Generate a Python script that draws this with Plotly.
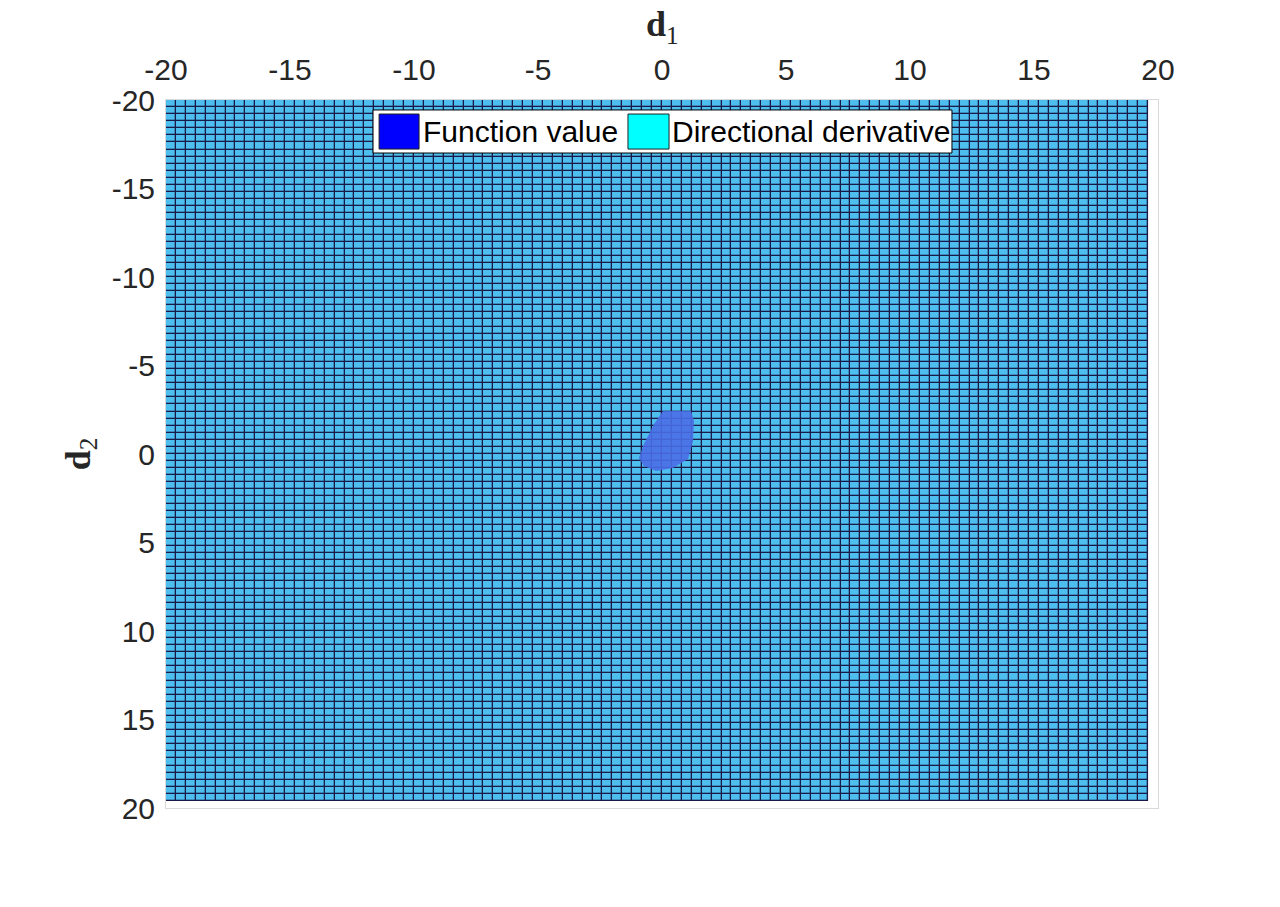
import numpy as np
import plotly.graph_objects as go

# mesh grid (flat surface seen from above), 0.4 spacing
grid_x = np.linspace(-20, 19.6, 100)
grid_y = np.linspace(-20, 19.6, 100)
mesh_z = np.ones((99, 99))

# outline of the "Function value" patch near the origin
blob_d1 = [0.04, 1.17, 1.29, 1.25, 1.05, 0.44, -0.24, -0.73, -0.93, -0.73, -0.32, -0.04, 0.04]
blob_d2 = [-2.43, -2.43, -1.86, -0.73, 0.28, 0.79, 0.96, 0.68, 0.23, -0.56, -1.69, -2.32, -2.43]

tick_vals = [-20, -15, -10, -5, 0, 5, 10, 15, 20]
tick_text = ["-20", "-15", "-10", "-5", "0", "5", "10", "15", "20"]
legend_names = ["Function value", "Directional derivative"]
legend_colors = ["#0000ff", "#00ffff"]

fig = go.Figure()

fig.add_trace(go.Heatmap(
    x=grid_x, y=grid_y, z=mesh_z,
    colorscale=[[0, "#4dbeee"], [1, "#4dbeee"]],
    showscale=False, xgap=1.3, ygap=1.3, hoverinfo="skip",
))

fig.add_trace(go.Scatter(
    x=blob_d1, y=blob_d2, mode="lines", fill="toself",
    fillcolor="rgba(74,110,230,0.9)", line=dict(width=0),
    showlegend=False, hoverinfo="skip",
))

# dark rectangle behind the mesh, so the gaps read as mesh lines
fig.add_shape(type="rect", xref="x", yref="y", x0=-20, x1=19.6, y0=-20, y1=19.6,
              fillcolor="#1a1a48", line=dict(width=0), layer="below")

# legend drawn by hand (MATLAB style boxes)
fig.add_shape(type="rect", xref="paper", yref="paper", x0=0.2087, x1=0.7923,
              y0=0.9251, y1=0.9859, fillcolor="white", line=dict(color="black", width=1))
box_x = [(0.2148, 0.2551), (0.4657, 0.5071)]
text_x = [0.2570, 0.5081]
for name, col, (bx0, bx1), tx in zip(legend_names, legend_colors, box_x, text_x):
    fig.add_shape(type="rect", xref="paper", yref="paper", x0=bx0, x1=bx1,
                  y0=0.9307, y1=0.9802, fillcolor=col, line=dict(color="#222222", width=1))
    fig.add_annotation(xref="paper", yref="paper", x=tx, y=0.9555, text=name,
                       showarrow=False, xanchor="left", yanchor="middle",
                       font=dict(size=30, color="black", family="Liberation Sans"))

# x axis label (top)
fig.add_annotation(xref="paper", yref="paper", x=0.5, y=1.104, text="<b>d</b><sub>1</sub>",
                   showarrow=False, xanchor="center", yanchor="middle",
                   font=dict(size=36, family="Liberation Serif", color="#262626"))

axis_common = dict(
    tickvals=tick_vals, ticktext=tick_text, showgrid=False, zeroline=False,
    showline=True, mirror=True, linecolor="#d9d9d9", linewidth=1,
    ticks="outside", tickcolor="rgba(0,0,0,0)", automargin=False,
    tickfont=dict(size=30, color="#262626", family="Liberation Sans"),
)

fig.update_xaxes(range=[-20, 20], side="top", ticklen=7, **axis_common)
fig.update_yaxes(range=[20, -20], ticklen=4,
                 title=dict(text="<b>d</b><sub>2</sub>", standoff=10,
                            font=dict(size=36, family="Liberation Serif", color="#262626")),
                 **axis_common)

fig.update_layout(
    width=1280, height=907,
    margin=dict(l=158, r=130, t=92, b=107),
    plot_bgcolor="white", paper_bgcolor="white",
    showlegend=False,
)

fig.write_html("out.html")
